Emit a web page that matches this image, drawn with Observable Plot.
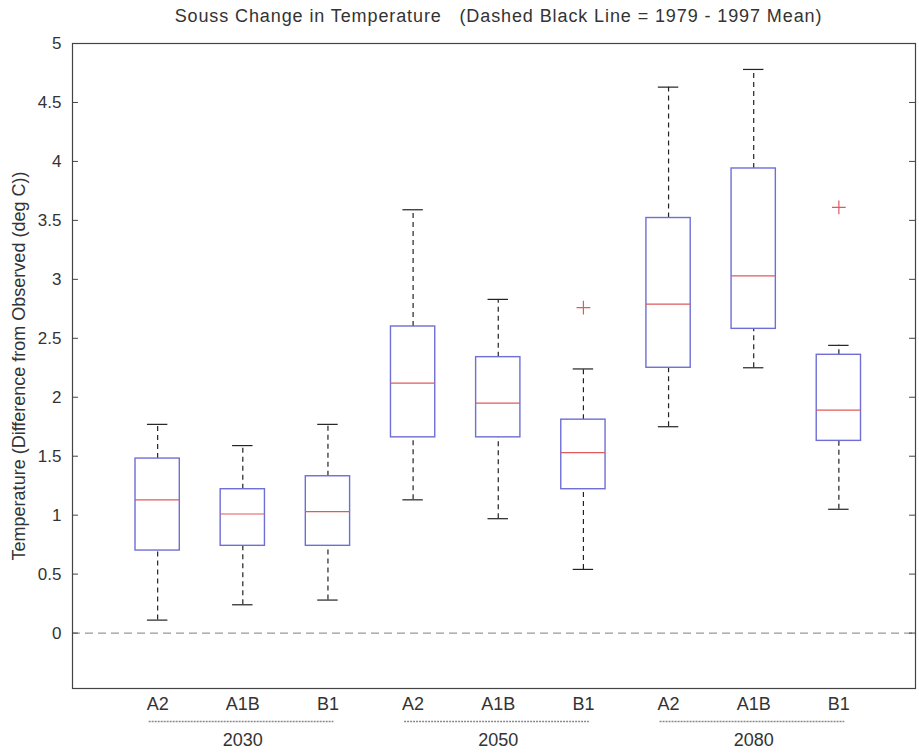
<!DOCTYPE html>
<html>
<head>
<meta charset="utf-8">
<script src="https://cdn.jsdelivr.net/npm/d3@7"></script>
<script src="https://cdn.jsdelivr.net/npm/@observablehq/plot@0.6"></script>
<style>
  html, body { margin: 0; padding: 0; background: #fff; }
  #title {
    height: 32px; line-height: 32px; font-family: "Liberation Sans", Arial, sans-serif;
    font-size: 18px; letter-spacing: 0.9px; color: #333; white-space: pre; text-align: center;
    padding-left: 82px; padding-right: 4px; box-sizing: border-box; width: 919px;
  }
</style>
</head>
<body>
<div id="title"></div>
<div id="chart"></div>
<script>
const titleText = "Souss Change in Temperature   (Dashed Black Line = 1979 - 1997 Mean)";
const yLabel = "Temperature (Difference from Observed (deg C))";
const years = ["2030", "2050", "2080"];
const scenarios = ["A2", "A1B", "B1"];
// per box, order: 2030 A2, A1B, B1, 2050 A2, A1B, B1, 2080 A2, A1B, B1
const lowerWhisker = [0.11, 0.24, 0.28, 1.13, 0.97, 0.54, 1.75, 2.25, 1.05];
const q1 =           [0.70, 0.74, 0.74, 1.66, 1.66, 1.22, 2.25, 2.58, 1.63];
const medians =      [1.13, 1.01, 1.03, 2.12, 1.95, 1.53, 2.79, 3.03, 1.89];
const q3 =           [1.48, 1.22, 1.33, 2.60, 2.34, 1.81, 3.52, 3.94, 2.36];
const upperWhisker = [1.77, 1.59, 1.77, 3.59, 2.83, 2.24, 4.63, 4.78, 2.44];
const outlierBox =   [6, 9];          // box number (1-based)
const outlierValue = [2.76, 3.61];
const yTicks = [0, 0.5, 1, 1.5, 2, 2.5, 3, 3.5, 4, 4.5, 5];
const baseline = 0;

document.getElementById("title").textContent = titleText;

const xDomain = [0, 9.9];
const yDomain = [-0.47, 5];

const boxes = lowerWhisker.map((lo, i) => ({
  pos: i + 1,
  label: scenarios[i % 3],
  year: years[Math.floor(i / 3)],
  lo, q1: q1[i], med: medians[i], q3: q3[i], hi: upperWhisker[i]
}));
const outliers = outlierBox.map((b, i) => ({pos: b, value: outlierValue[i]}));
const groups = years.map((y, g) => ({year: y, first: g * 3 + 1, last: g * 3 + 3, center: g * 3 + 2}));

const boxHalf = 0.26, capHalf = 0.12;
const blue = "#6e6ed6", red = "#e05a5a", ink = "#333";

const chart = Plot.plot({
  width: 919,
  height: 724,
  marginTop: 11,
  marginBottom: 68,
  marginLeft: 72,
  marginRight: 4,
  style: {fontFamily: "'Liberation Sans', Arial, sans-serif", fontSize: "17px", color: ink, background: "#fff"},
  x: {type: "linear", domain: xDomain},
  y: {domain: yDomain},
  marks: [
    Plot.ruleY([baseline], {stroke: "#999", strokeDasharray: "8,5", strokeWidth: 1.2}),
    // whiskers
    Plot.ruleX(boxes, {x: "pos", y1: "lo", y2: "q1", stroke: "#222", strokeDasharray: "5,4", strokeWidth: 1.2}),
    Plot.ruleX(boxes, {x: "pos", y1: "q3", y2: "hi", stroke: "#222", strokeDasharray: "5,4", strokeWidth: 1.2}),
    Plot.ruleY(boxes, {y: "lo", x1: d => d.pos - capHalf, x2: d => d.pos + capHalf, stroke: "#222", strokeWidth: 1.2}),
    Plot.ruleY(boxes, {y: "hi", x1: d => d.pos - capHalf, x2: d => d.pos + capHalf, stroke: "#222", strokeWidth: 1.2}),
    // boxes
    Plot.rect(boxes, {x1: d => d.pos - boxHalf, x2: d => d.pos + boxHalf, y1: "q1", y2: "q3", fill: "#fff", stroke: blue, strokeWidth: 1.4}),
    Plot.ruleY(boxes, {y: "med", x1: d => d.pos - boxHalf, x2: d => d.pos + boxHalf, stroke: red, strokeWidth: 1.2}),
    Plot.dot(outliers, {x: "pos", y: "value", symbol: "plus", stroke: red, r: 4.5, strokeWidth: 1.2}),
    Plot.frame({stroke: "#444", strokeWidth: 1.2}),
    // inward ticks (left and right)
    Plot.ruleY(yTicks, {x1: xDomain[0], x2: xDomain[0] + 0.07, stroke: "#444"}),
    Plot.ruleY(yTicks, {x1: xDomain[1] - 0.07, x2: xDomain[1], stroke: "#444"}),
    Plot.axisY({ticks: yTicks, tickFormat: d => String(d), tickSize: 0, tickPadding: 11, label: null}),
    Plot.axisX({ticks: boxes.map(d => d.pos), tickFormat: p => boxes[p - 1].label, tickSize: 0, tickPadding: 9, label: null, fontSize: 18}),
    // group separators and year labels
    Plot.ruleY(groups, {y: () => yDomain[0], x1: d => d.first - 0.1, x2: d => d.last + 0.07, dy: 33, stroke: "#888", strokeDasharray: "2,1", strokeWidth: 1.5}),
    Plot.text(groups, {x: "center", text: "year", frameAnchor: "bottom", dy: 57, fill: ink, fontSize: 18}),
    Plot.text([yLabel], {frameAnchor: "left", textAnchor: "middle", rotate: -90, dx: -53, text: d => d, fill: ink, fontSize: 18})
  ]
});
document.getElementById("chart").appendChild(chart);
</script>
</body>
</html>
